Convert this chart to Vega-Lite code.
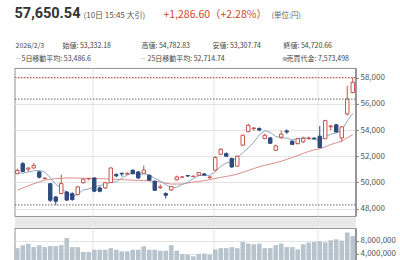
{
  "$schema": "https://vega.github.io/schema/vega-lite/v6.json",
  "padding": {"left": 13.5, "top": 4.95, "right": 0, "bottom": 0},
  "config": {
    "font": "Noto Sans CJK JP",
    "view": {"stroke": null},
    "title": {"anchor": "start", "frame": "group", "color": "#444", "fontWeight": "normal", "offset": 0},
    "axis": {"labelFont": "Noto Sans CJK JP", "labelColor": "#555", "labelFontSize": 8, "tickColor": "#888", "domainColor": "#666", "gridColor": "#e3e3e3"}
  },
  "datasets": {
    "ohlc": [
      {"d": "2025-11-10", "o": 50670, "h": 51050, "l": 50620, "c": 50910, "ma5": 50760, "ma25": 49400, "vol": 5800000},
      {"d": "2025-11-11", "o": 51430, "h": 51560, "l": 50780, "c": 50840, "ma5": 50700, "ma25": 49570, "vol": 6700000},
      {"d": "2025-11-12", "o": 51010, "h": 51130, "l": 50800, "c": 51100, "ma5": 50800, "ma25": 49740, "vol": 7100000},
      {"d": "2025-11-13", "o": 51100, "h": 51500, "l": 51050, "c": 51300, "ma5": 50890, "ma25": 49900, "vol": 6100000},
      {"d": "2025-11-14", "o": 50800, "h": 50880, "l": 50300, "c": 50400, "ma5": 50910, "ma25": 50050, "vol": 6700000},
      {"d": "2025-11-17", "o": 50300, "h": 50380, "l": 50200, "c": 50330, "ma5": 50794, "ma25": 50170, "vol": 6100000},
      {"d": "2025-11-18", "o": 49900, "h": 49950, "l": 48500, "c": 48640, "ma5": 50354, "ma25": 50240, "vol": 6400000},
      {"d": "2025-11-19", "o": 48890, "h": 48950, "l": 48280, "c": 48560, "ma5": 49846, "ma25": 50290, "vol": 6400000},
      {"d": "2025-11-20", "o": 49150, "h": 50600, "l": 49100, "c": 49910, "ma5": 49568, "ma25": 50320, "vol": 6700000},
      {"d": "2025-11-21", "o": 49270, "h": 49350, "l": 48600, "c": 48650, "ma5": 49218, "ma25": 50340, "vol": 8900000},
      {"d": "2025-11-25", "o": 49145, "h": 49250, "l": 48600, "c": 48690, "ma5": 48890, "ma25": 50340, "vol": 6100000},
      {"d": "2025-11-26", "o": 49070, "h": 49700, "l": 49000, "c": 49660, "ma5": 49094, "ma25": 50330, "vol": 6100000},
      {"d": "2025-11-27", "o": 49980, "h": 50300, "l": 49900, "c": 50240, "ma5": 49430, "ma25": 50320, "vol": 4600000},
      {"d": "2025-11-28", "o": 50280, "h": 50350, "l": 50150, "c": 50300, "ma5": 49508, "ma25": 50310, "vol": 4600000},
      {"d": "2025-12-01", "o": 50340, "h": 50400, "l": 49250, "c": 49330, "ma5": 49644, "ma25": 50300, "vol": 5300000},
      {"d": "2025-12-02", "o": 49580, "h": 49700, "l": 49250, "c": 49330, "ma5": 49772, "ma25": 50290, "vol": 5300000},
      {"d": "2025-12-03", "o": 49580, "h": 50050, "l": 49500, "c": 49980, "ma5": 49836, "ma25": 50270, "vol": 5300000},
      {"d": "2025-12-04", "o": 49990, "h": 51150, "l": 49950, "c": 51100, "ma5": 50008, "ma25": 50250, "vol": 5800000},
      {"d": "2025-12-05", "o": 50600, "h": 50700, "l": 50400, "c": 50500, "ma5": 50048, "ma25": 50230, "vol": 5300000},
      {"d": "2025-12-08", "o": 50700, "h": 50720, "l": 50450, "c": 50650, "ma5": 50312, "ma25": 50210, "vol": 4800000},
      {"d": "2025-12-09", "o": 50640, "h": 50780, "l": 50550, "c": 50680, "ma5": 50582, "ma25": 50190, "vol": 4800000},
      {"d": "2025-12-10", "o": 50930, "h": 51000, "l": 50600, "c": 50670, "ma5": 50720, "ma25": 50170, "vol": 5300000},
      {"d": "2025-12-11", "o": 50800, "h": 50850, "l": 50250, "c": 50340, "ma5": 50568, "ma25": 50150, "vol": 5300000},
      {"d": "2025-12-12", "o": 50700, "h": 51300, "l": 50650, "c": 50950, "ma5": 50658, "ma25": 50140, "vol": 6400000},
      {"d": "2025-12-15", "o": 50550, "h": 50600, "l": 50100, "c": 50170, "ma5": 50562, "ma25": 50129, "vol": 5300000},
      {"d": "2025-12-16", "o": 50090, "h": 50150, "l": 49350, "c": 49400, "ma5": 50306, "ma25": 50069, "vol": 5300000},
      {"d": "2025-12-17", "o": 49600, "h": 49850, "l": 49500, "c": 49660, "ma5": 50104, "ma25": 50022, "vol": 5000000},
      {"d": "2025-12-18", "o": 49150, "h": 49250, "l": 48760, "c": 49020, "ma5": 49840, "ma25": 49938, "vol": 5000000},
      {"d": "2025-12-19", "o": 49420, "h": 49720, "l": 49350, "c": 49680, "ma5": 49586, "ma25": 49873, "vol": 6700000},
      {"d": "2025-12-22", "o": 50200, "h": 50520, "l": 50150, "c": 50420, "ma5": 49636, "ma25": 49874, "vol": 5000000},
      {"d": "2025-12-23", "o": 50400, "h": 50480, "l": 50350, "c": 50420, "ma5": 49840, "ma25": 49878, "vol": 4000000},
      {"d": "2025-12-24", "o": 50520, "h": 50560, "l": 50420, "c": 50490, "ma5": 50006, "ma25": 49952, "vol": 3800000},
      {"d": "2025-12-25", "o": 50450, "h": 50520, "l": 50400, "c": 50480, "ma5": 50298, "ma25": 50029, "vol": 3300000},
      {"d": "2025-12-26", "o": 50550, "h": 50800, "l": 50500, "c": 50750, "ma5": 50512, "ma25": 50062, "vol": 4000000},
      {"d": "2025-12-29", "o": 50650, "h": 50700, "l": 50500, "c": 50560, "ma5": 50540, "ma25": 50139, "vol": 4100000},
      {"d": "2025-12-30", "o": 50380, "h": 50440, "l": 50260, "c": 50420, "ma5": 50540, "ma25": 50208, "vol": 3800000},
      {"d": "2026-01-05", "o": 50930, "h": 52000, "l": 50900, "c": 51900, "ma5": 50822, "ma25": 50297, "vol": 5400000},
      {"d": "2026-01-06", "o": 52150, "h": 52600, "l": 52100, "c": 52530, "ma5": 51232, "ma25": 50389, "vol": 5800000},
      {"d": "2026-01-07", "o": 52200, "h": 52300, "l": 51950, "c": 52000, "ma5": 51482, "ma25": 50457, "vol": 5800000},
      {"d": "2026-01-08", "o": 51820, "h": 51900, "l": 51100, "c": 51180, "ma5": 51606, "ma25": 50531, "vol": 6100000},
      {"d": "2026-01-09", "o": 51240, "h": 52050, "l": 51200, "c": 52000, "ma5": 51922, "ma25": 50638, "vol": 5800000},
      {"d": "2026-01-13", "o": 52840, "h": 53650, "l": 52800, "c": 53600, "ma5": 52262, "ma25": 50783, "vol": 7700000},
      {"d": "2026-01-14", "o": 53880, "h": 54480, "l": 53820, "c": 54360, "ma5": 52628, "ma25": 50913, "vol": 7200000},
      {"d": "2026-01-15", "o": 54100, "h": 54180, "l": 53950, "c": 54160, "ma5": 53060, "ma25": 51060, "vol": 7000000},
      {"d": "2026-01-16", "o": 54120, "h": 54200, "l": 53900, "c": 54000, "ma5": 53624, "ma25": 51194, "vol": 7200000},
      {"d": "2026-01-19", "o": 53350, "h": 53720, "l": 53300, "c": 53600, "ma5": 53944, "ma25": 51310, "vol": 5800000},
      {"d": "2026-01-20", "o": 53400, "h": 53450, "l": 52950, "c": 52990, "ma5": 53822, "ma25": 51403, "vol": 5800000},
      {"d": "2026-01-21", "o": 52450, "h": 52900, "l": 52400, "c": 52780, "ma5": 53506, "ma25": 51501, "vol": 6700000},
      {"d": "2026-01-22", "o": 53450, "h": 53950, "l": 53300, "c": 53690, "ma5": 53412, "ma25": 51610, "vol": 7200000},
      {"d": "2026-01-23", "o": 53930, "h": 54050, "l": 53700, "c": 53850, "ma5": 53382, "ma25": 51758, "vol": 6100000},
      {"d": "2026-01-26", "o": 53150, "h": 53200, "l": 52850, "c": 52900, "ma5": 53242, "ma25": 51898, "vol": 6100000},
      {"d": "2026-01-27", "o": 52960, "h": 53400, "l": 52900, "c": 53340, "ma5": 53312, "ma25": 52045, "vol": 5400000},
      {"d": "2026-01-28", "o": 53100, "h": 53500, "l": 53000, "c": 53360, "ma5": 53428, "ma25": 52218, "vol": 7000000},
      {"d": "2026-01-29", "o": 53350, "h": 53500, "l": 53250, "c": 53390, "ma5": 53368, "ma25": 52367, "vol": 7500000},
      {"d": "2026-01-30", "o": 53380, "h": 53450, "l": 53250, "c": 53330, "ma5": 53264, "ma25": 52483, "vol": 7700000},
      {"d": "2026-02-02", "o": 53530, "h": 54300, "l": 52600, "c": 52660, "ma5": 53216, "ma25": 52573, "vol": 7900000},
      {"d": "2026-02-03", "o": 53332.18, "h": 54782.83, "l": 53307.74, "c": 54720.66, "ma5": 53486.6, "ma25": 52714.74, "vol": 7573498},
      {"d": "2026-02-04", "o": 54250, "h": 54400, "l": 54000, "c": 54300, "ma5": 53680, "ma25": 52895, "vol": 8200000},
      {"d": "2026-02-05", "o": 54400, "h": 54450, "l": 53800, "c": 53850, "ma5": 53772, "ma25": 53019, "vol": 8500000},
      {"d": "2026-02-06", "o": 53400, "h": 54300, "l": 53090, "c": 54240, "ma5": 53954, "ma25": 53166, "vol": 8100000},
      {"d": "2026-02-09", "o": 55230, "h": 57370, "l": 55100, "c": 56363.94, "ma5": 54695, "ma25": 53404, "vol": 10600000},
      {"d": "2026-02-10", "o": 56860, "h": 58015, "l": 56800, "c": 57650.54, "ma5": 55281, "ma25": 53634, "vol": 9500000}
    ],
    "levels": [
      {"kind": "high", "v": 58015},
      {"kind": "prev", "v": 56363.94},
      {"kind": "low", "v": 48280}
    ]
  },
  "spacing": 12,
  "bounds": "flush",
  "resolve": {"scale": {"x": "independent", "y": "independent"}},
  "vconcat": [
    {
      "spacing": 0,
      "bounds": "flush",
      "hconcat": [
        {"width": 68.5, "height": 1, "data": {"values": []}, "mark": "text",
         "title": {"text": "57,650.54", "font": "Roboto", "fontSize": 14.5, "fontWeight": "bold", "color": "#333", "offset": 10.55}},
        {"width": 80, "height": 1, "data": {"values": []}, "mark": "text",
         "title": {"text": "(10日 15:45 大引)", "fontSize": 8, "color": "#555", "offset": 12}},
        {"width": 108, "height": 1, "data": {"values": []}, "mark": "text",
         "title": {"text": "+1,286.60（+2.28%）", "fontSize": 10.5, "color": "#d1442f", "offset": 11.25}},
        {"width": 40, "height": 1, "data": {"values": []}, "mark": "text",
         "title": {"text": "(単位:円)", "fontSize": 7.5, "color": "#666", "offset": 12.05}}
      ]
    },
    {
      "spacing": 0,
      "bounds": "flush",
      "hconcat": [
        {"width": 47.5, "height": 1, "data": {"values": []}, "mark": "text",
         "title": {"text": "2026/2/3", "fontSize": 7, "dx": 1, "offset": -5}},
        {"width": 78.5, "height": 1, "data": {"values": []}, "mark": "text",
         "title": {"text": "始値: 53,332.18", "fontSize": 7, "offset": -5}},
        {"width": 70.5, "height": 1, "data": {"values": []}, "mark": "text",
         "title": {"text": "高値: 54,782.83", "fontSize": 7, "offset": -5}},
        {"width": 70.5, "height": 1, "data": {"values": []}, "mark": "text",
         "title": {"text": "安値: 53,307.74", "fontSize": 7, "offset": -5}},
        {"width": 80, "height": 1, "data": {"values": []}, "mark": "text",
         "title": {"text": "終値: 54,720.66", "fontSize": 7, "offset": -5}}
      ]
    },
    {
      "spacing": 0,
      "bounds": "flush",
      "hconcat": [
        {"width": 6, "height": 1, "data": {"values": []}, "mark": "text",
         "title": {"text": "—", "fontSize": 6, "color": "#7f9cc0", "dx": 1, "offset": -5.3}},
        {"width": 120, "height": 1, "data": {"values": []}, "mark": "text",
         "title": {"text": "5日移動平均: 53,486.6", "fontSize": 7, "dx": 1, "offset": -6.3}},
        {"width": 6.5, "height": 1, "data": {"values": []}, "mark": "text",
         "title": {"text": "—", "fontSize": 6, "color": "#d98888", "offset": -5.3}},
        {"width": 134.5, "height": 1, "data": {"values": []}, "mark": "text",
         "title": {"text": "25日移動平均: 52,714.74", "fontSize": 7, "offset": -6.3}},
        {"width": 4, "height": 1, "data": {"values": []}, "mark": "text",
         "title": {"text": "■", "fontSize": 5, "color": "#aab5bf", "offset": -5.3}},
        {"width": 80, "height": 1, "data": {"values": []}, "mark": "text",
         "title": {"text": "売買代金: 7,573,498", "fontSize": 7, "offset": -6.3}}
      ]
    },
    {
      "width": 341,
      "height": 148,
      "view": {"stroke": "#8f8f8f"},
      "data": {"name": "ohlc"},
      "layer": [
        {
          "mark": {"type": "rule", "strokeWidth": 1},
          "encoding": {
            "x": {"field": "d", "type": "ordinal", "scale": {"paddingInner": 0, "paddingOuter": 0},
                  "axis": {"orient": "bottom", "labels": false, "ticks": false, "domain": false, "title": null,
                           "values": ["2025-12-01", "2026-01-05", "2026-02-02"], "grid": true, "bandPosition": 0.2}},
            "y": {"field": "l", "type": "quantitative", "title": null,
                  "scale": {"domain": [47440, 58740], "zero": false, "nice": false},
                  "axis": {"orient": "right", "values": [48000, 50000, 52000, 54000, 56000, 58000], "format": ",d", "grid": true, "tickSize": 3, "labelPadding": 1.5, "title": null}},
            "y2": {"field": "h"},
            "stroke": {"condition": {"test": "datum.c >= datum.o", "value": "#c8514a"}, "value": "#2d4b7c"}
          }
        },
        {
          "mark": {"type": "line", "strokeWidth": 1, "color": "#d98b8b"},
          "encoding": {
            "x": {"field": "d", "type": "ordinal", "axis": {"orient": "bottom", "labels": false, "ticks": false, "domain": false, "title": null, "values": ["2025-12-01", "2026-01-05", "2026-02-02"], "grid": true, "bandPosition": 0.2}},
            "y": {"field": "ma25", "type": "quantitative", "title": null,
                  "axis": {"orient": "right", "values": [48000, 50000, 52000, 54000, 56000, 58000], "format": ",d", "grid": true, "tickSize": 3, "labelPadding": 1.5, "title": null}}
          }
        },
        {
          "mark": {"type": "line", "strokeWidth": 1, "color": "#8ea6c2"},
          "encoding": {
            "x": {"field": "d", "type": "ordinal", "axis": {"orient": "bottom", "labels": false, "ticks": false, "domain": false, "title": null, "values": ["2025-12-01", "2026-01-05", "2026-02-02"], "grid": true, "bandPosition": 0.2}},
            "y": {"field": "ma5", "type": "quantitative", "title": null,
                  "axis": {"orient": "right", "values": [48000, 50000, 52000, 54000, 56000, 58000], "format": ",d", "grid": true, "tickSize": 3, "labelPadding": 1.5, "title": null}}
          }
        },
        {
          "mark": {"type": "bar", "width": {"band": 0.62}, "strokeWidth": 1},
          "encoding": {
            "x": {"field": "d", "type": "ordinal", "axis": {"orient": "bottom", "labels": false, "ticks": false, "domain": false, "title": null, "values": ["2025-12-01", "2026-01-05", "2026-02-02"], "grid": true, "bandPosition": 0.2}},
            "y": {"field": "o", "type": "quantitative", "title": null,
                  "axis": {"orient": "right", "values": [48000, 50000, 52000, 54000, 56000, 58000], "format": ",d", "grid": true, "tickSize": 3, "labelPadding": 1.5, "title": null}},
            "y2": {"field": "c"},
            "fill": {"condition": {"test": "datum.c >= datum.o", "value": "#ffffff"}, "value": "#2d4b7c"},
            "stroke": {"condition": {"test": "datum.c >= datum.o", "value": "#c8514a"}, "value": "#2d4b7c"}
          }
        },
        {
          "data": {"name": "levels"},
          "mark": {"type": "rule", "strokeDash": [1.5, 1.5], "strokeWidth": 1},
          "encoding": {
            "y": {"field": "v", "type": "quantitative", "title": null,
                  "axis": {"orient": "right", "values": [48000, 50000, 52000, 54000, 56000, 58000], "format": ",d", "grid": true, "tickSize": 3, "labelPadding": 1.5, "title": null}},
            "stroke": {"field": "kind", "type": "nominal", "legend": null,
                       "scale": {"domain": ["high", "prev", "low"], "range": ["#d04848", "#666666", "#666666"]}}
          }
        }
      ]
    },
    {
      "width": 341,
      "height": 39,
      "view": {"stroke": "#8f8f8f"},
      "data": {"name": "ohlc"},
      "mark": {"type": "bar", "width": {"band": 0.84}, "color": "#b8c4cd"},
      "encoding": {
        "x": {"field": "d", "type": "ordinal", "scale": {"paddingInner": 0, "paddingOuter": 0},
              "axis": {"orient": "top", "title": null, "values": ["2025-12-01", "2026-01-05", "2026-02-02"],
                       "labelExpr": "datum.value == '2025-12-01' ? '12/1' : datum.value == '2026-01-05' ? '1/1' : '2/1'",
                       "bandPosition": 0.2, "offset": 6, "domain": true, "domainColor": "#e8e8e8", "domainWidth": 10,
                       "ticks": false, "labelPadding": 0, "labelBaseline": "middle", "labelAngle": 0,
                       "labelFontSize": 8, "labelColor": "#444", "grid": true}},
        "y": {"field": "vol", "type": "quantitative", "title": null,
              "scale": {"domain": [0, 12000000], "nice": false},
              "axis": {"orient": "right", "values": [4000000, 8000000], "format": ",d", "grid": true,
                       "tickSize": 3, "labelPadding": 1.5, "title": null}}
      }
    }
  ]
}
